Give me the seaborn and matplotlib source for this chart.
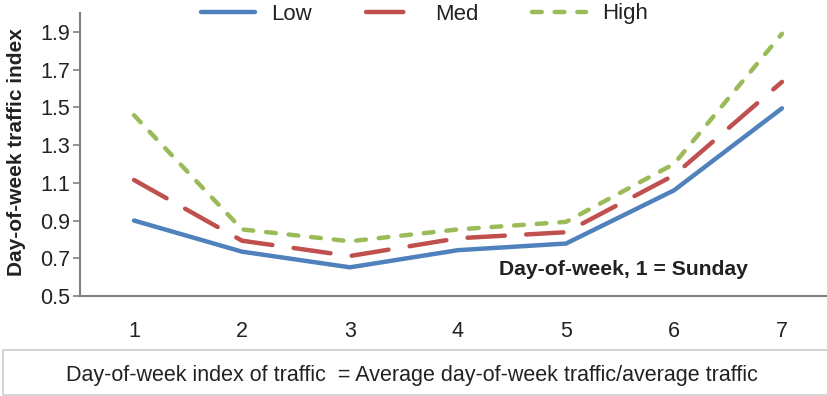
import matplotlib
matplotlib.use("Agg")
import matplotlib.pyplot as plt
import seaborn as sns
import pandas as pd
from matplotlib.patches import Rectangle

# Day-of-week traffic index by traffic level
days = [1, 2, 3, 4, 5, 6, 7]
low = [0.90, 0.735, 0.652, 0.743, 0.778, 1.06, 1.495]
med = [1.115, 0.793, 0.712, 0.806, 0.838, 1.14, 1.635]
high = [1.458, 0.853, 0.79, 0.853, 0.893, 1.20, 1.89]
levels = ["Low", "Med", "High"]
y_ticks = [0.5, 0.7, 0.9, 1.1, 1.3, 1.5, 1.7, 1.9]

colors = {"Low": "#4F81BD", "Med": "#C0504D", "High": "#9BBB59"}
dash_styles = {"Low": "", "Med": (8.4, 4.8), "High": (2.2, 2.9)}
LW = 3.2

df = pd.DataFrame({
    "day": days * 3,
    "index": low + med + high,
    "level": ["Low"] * 7 + ["Med"] * 7 + ["High"] * 7,
})

sns.set_theme(style="white")
plt.rcParams["font.family"] = ["Liberation Sans", "DejaVu Sans"]

fig = plt.figure(figsize=(8.28, 3.96), dpi=100)
ax = fig.add_axes([80 / 828, 1 - 296 / 396, 756 / 828, 283 / 396])

sns.lineplot(data=df, x="day", y="index", hue="level", style="level",
             hue_order=levels, style_order=levels, palette=colors,
             dashes=dash_styles, linewidth=LW, ax=ax, legend=False)
for line in ax.lines:
    line.set_dash_capstyle("round")
    line.set_solid_capstyle("round")
    line.set_solid_joinstyle("miter")

ax.set_xlim(0.5, 7.5)
ax.set_ylim(0.5, 2.0)
ax.set_xticks(days)
ax.set_xticklabels([str(d) for d in days])
ax.set_yticks(y_ticks)
ax.set_yticklabels([f"{v:.1f}" for v in y_ticks])
ax.tick_params(axis="x", length=0, pad=18, labelsize=15.5, labelcolor="#222222")
ax.tick_params(axis="y", length=5, width=1.2, color="#808080", pad=2,
               labelsize=15.5, labelcolor="#222222", left=True)
ax.set_xlabel("")
ax.set_ylabel("")
for side in ("top", "right"):
    ax.spines[side].set_visible(False)
for side in ("left", "bottom"):
    ax.spines[side].set_color("#808080")
    ax.spines[side].set_linewidth(1.5)

ax.text(5.53, 0.64, "Day-of-week, 1 = Sunday", ha="center", va="center",
        fontsize=15.2, fontweight="bold", color="#222222")

fig.text(17 / 828, 1 - 152 / 396, "Day-of-week traffic index", rotation=90,
         ha="center", va="center", fontsize=15, fontweight="bold",
         color="#222222")

# Legend across the top
handles = []
for lvl in levels:
    h, = ax.plot([], [], color=colors[lvl], linewidth=LW,
                 dashes=dash_styles[lvl] if dash_styles[lvl] else (None, None),
                 label=lvl)
    h.set_dash_capstyle("round")
    h.set_solid_capstyle("round")
    handles.append(h)
fig.legend(handles=handles, labels=levels, loc="center", ncol=3,
           bbox_to_anchor=(0.513, 1 - 14 / 396), frameon=False,
           fontsize=16, handlelength=2.4, handletextpad=0.75,
           columnspacing=2.4, labelcolor="#222222")

# Definition box below the chart
fig.patches.append(Rectangle((3 / 828, 1 - 395 / 396), 830 / 828, 45 / 396,
                             transform=fig.transFigure, fill=False,
                             edgecolor="#cccccc", linewidth=1.2))
fig.text(412 / 828, 1 - 376 / 396,
         "Day-of-week index of traffic  = Average day-of-week traffic/average traffic",
         ha="center", va="center", fontsize=15.5, color="#222222")

fig.savefig("out.png", dpi=100)
